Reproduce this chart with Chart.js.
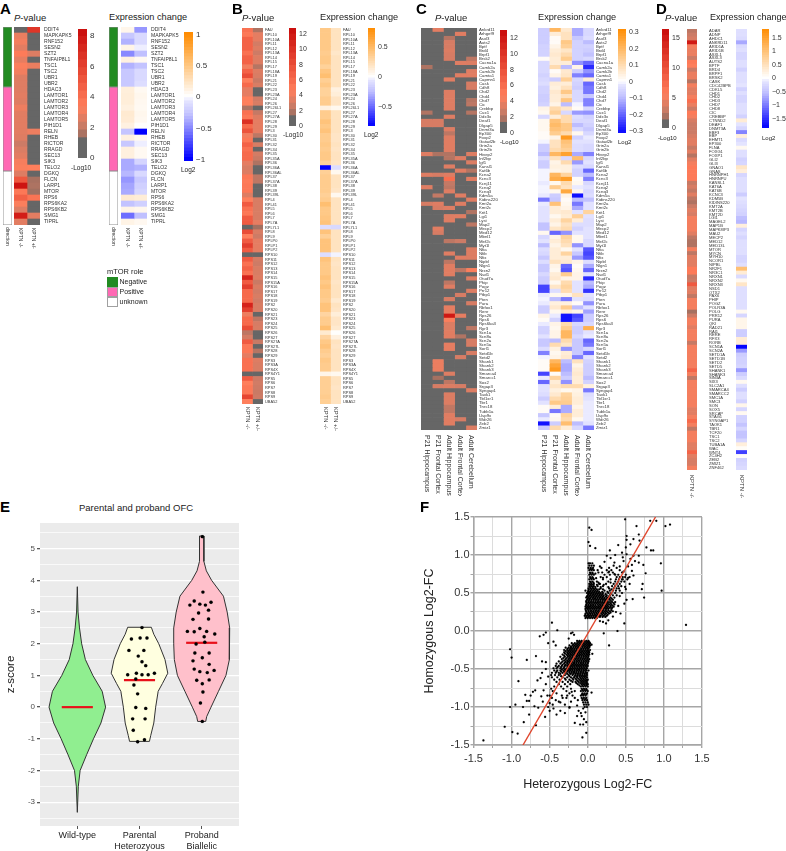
<!DOCTYPE html>
<html lang="en">
<head>
<meta charset="UTF-8" />
<title>KPTN expression figure</title>
<script src="https://cdn.jsdelivr.net/npm/chart.js"></script>
<style>
  html, body { margin: 0; padding: 0; background: #fff; }
  body { position: relative; width: 786px; height: 851px; overflow: hidden; font-family: "Liberation Sans", Arial, sans-serif; color: #222; }
  canvas { position: absolute; }
  .t { position: absolute; white-space: nowrap; line-height: 1; }
  .sw { position: absolute; box-sizing: border-box; }
</style>
</head>
<body>
<script>
// ---------- panel A ----------
const aGenes = ['DDIT4','MAPKAPK5','RNF152','SESN2','SZT2','TNFAIP8L1','TSC1','TSC2','UBR1','UBR2','HDAC3','LAMTOR1','LAMTOR2','LAMTOR3','LAMTOR4','LAMTOR5','PIH1D1','RELN','RHEB','RICTOR','RRAGD','SEC13','SIK3','TELO2','DGKQ','FLCN','LARP1','MTOR','RPS6','RPS6KA2','RPS6KB2','SMG1','TIPRL'];
const aColumns = ['KPTN -/-','KPTN +/-'];
const aRoleCounts = [10, 14, 9];
const aP1 = [0,2.8,3,2.6,3.5,2.7,3.2,3,2.5,2.5,2.5,2.6,2.5,2.9,2.6,2.6,2.6,2.6,2.5,2.1,2.4,2.6,3.1,3.2,2.5,5,8,3.6,4.6,3.2,2.5,7.6,2.6];
const aP2 = [6.5,0,0,0,2.5,0,2.8,0,0,0,0,0,0,0,0,0,0,2.9,0,0,0,0,0,3.3,0,1.5,1.6,1.4,3.8,0,0,2.6,0];
const aE1 = [.08,-.25,-.35,.1,-.5,.12,-.35,-.25,-.25,-.25,.14,.15,.15,.12,.18,.17,.12,-.27,.12,-.25,.13,.13,-.38,-.38,-.33,-.45,-.4,-.38,.18,-.28,.1,-.6,.1];
const aE2 = [-.45,-.15,-.15,-.05,-.3,.05,-.28,-.15,-.15,-.12,.05,.07,.06,.05,.07,.06,.01,-1,.06,-.05,.05,.05,-.18,-.35,-.15,-.25,-.2,-.17,.16,-.2,.07,-.3,.06];

// ---------- panel B ----------
const bGenes = ['FAU','RPL10','RPL10A','RPL11','RPL12','RPL13A','RPL14','RPL15','RPL17','RPL18A','RPL19','RPL21','RPL22','RPL23','RPL23A','RPL24','RPL26','RPL26L1','RPL27','RPL27A','RPL28','RPL29','RPL3','RPL30','RPL31','RPL32','RPL34','RPL35','RPL35A','RPL36','RPL36A','RPL36AL','RPL37','RPL37A','RPL38','RPL39','RPL39L','RPL4','RPL41','RPL5','RPL6','RPL7','RPL7A','RPL7L1','RPL8','RPL9','RPLP0','RPLP1','RPLP2','RPS10','RPS11','RPS12','RPS13','RPS14','RPS15','RPS15A','RPS16','RPS17','RPS18','RPS19','RPS2','RPS20','RPS21','RPS23','RPS24','RPS25','RPS26','RPS27','RPS27A','RPS27L','RPS28','RPS29','RPS3','RPS3A','RPS4X','RPS4Y1','RPS5','RPS6','RPS7','RPS8','RPS9','UBA52'];
const bP1 = [5.5,5,6.5,6.5,6.5,5.5,6.5,6.5,4,6.5,8,4.5,6,3.5,3.5,4.5,4.5,1.8,5.5,5,10,6,7.5,4,5,6.5,5.5,6,6,3.5,3,3.2,5,4.8,5,5,3.2,4.5,7,5.5,5,7,7,0,8,4.5,7,9,7,0,7,5.5,6.5,5.5,11,7,9,6,6,6,11,9,3.8,6,6,8,2.2,2.8,7,5,5,3.5,5.5,5.5,5.5,0,7,4.5,5,5,8.5,4.5];
const bP2 = [1.8,3.5,3.5,2.8,3.2,2.6,3.2,3.2,2,3.2,3,2.5,3,0,0,2.7,3,0,2.4,3.2,3.5,3.5,3.5,2.2,0,3,0,2.8,2.5,1.8,0,0,2.2,2.2,0,0,0,3,3,3,3,3,3.5,1.5,3,2.6,3.5,3.5,3.5,0,2.8,2.6,3,3,3.2,2.5,3,2.7,3,2.7,3,3,0,2.2,2.9,3,0,0,2.5,0,2,0,3.2,3,3,0,2.6,2.7,2.6,2.5,2.6,0];
const bE1 = [.38,.38,.38,.38,.38,.36,.38,.38,.32,.4,.45,.34,.38,.32,.32,.36,.36,.1,.36,.36,.42,.38,.42,.36,.36,.38,.36,.38,.38,.32,-.8,.33,.36,.36,.36,.36,.33,.36,.45,.38,.38,.4,.42,-.1,.42,.33,.42,.42,.42,-.1,.42,.38,.38,.38,.42,.38,.42,.38,.38,.36,.42,.42,.3,.36,.36,.45,.15,.3,.38,.42,.36,.33,.38,.36,.36,.07,.34,.34,.34,.34,.36,.34];
const bE2 = [.2,.2,.2,.2,.2,.17,.2,.2,.2,.2,.2,.2,.2,.1,.12,.18,.18,.05,.2,.2,.2,.2,.2,.18,.18,.2,.18,.2,.2,.18,-.1,.05,.2,.2,.2,.18,.05,.2,.2,.2,.2,.2,.2,-.12,.2,.2,.2,.2,.2,-.03,.2,.18,.2,.2,.2,.18,.2,.2,.2,.15,.2,.18,.12,.18,.18,.15,.01,.1,.2,.18,.2,.2,.2,.2,.2,.05,.2,.2,.18,.2,.2,.2];

// ---------- panel C ----------
const cGenes = ['Ankrd11','Arhgef9','Asxl3','Auts2','Bptf','Brd4','Brpf1','Brsk2','Cacna1a','Camk2a','Camk2b','Camta1','Capmn1','Cask','Cdh8','Chd2','Chd4','Chd7','Cic','Crebbp','Cux1','Ddx3x','Deaf1','Dlgap5','Dnmt3a','Ep300','Foxp2','Gatad2b','Grin2a','Grin2b','Hivep2','Inf2bp','Igf1','Kansl1','Kat6b','Kcna2','Kcnc3','Kcnj11','Kcnq2','Kcnq3','Kdm5a','Kidins220','Kmt2a','Kmt2c','Krit1','Lgi1','Lyst','Map2','Mecp2','Med12','Mbnl1','Mef2c','Myt1l','Nfia','Nfib','Nfix','Nipbl','Nlgn1','Nrxn2','Nsd1','Otud7a','Phip','Pogz','Prr12','Ptbp1','Pten','Pura','Rbfox1','Rere','Rps26','Rps6','Rps6ka3','Ryr3','Scn1a','Scn8a','Scn2a','Scn5a','Sorl1','Setd1b','Setd2','Shank1','Shank2','Shank3','Smarca4','Smarcc1','Sox2','Srgap3','Syngap1','Taok1','Tbl1xr1','Tbr1','Tnrc18','Tubb1a','Usp9x','Wdr26','Zeb2','Zmiz1'];
const cColumns = ['P21 Hippocampus','P21 Frontal Cortex','Adult Hippocampus','Adult Frontal Cortex','Adult Cerebellum'];
// [row, -log10 p] for the cells that are not grey
const cPHip21 = [[9,1.8],[20,1.9],[22,3],[23,3],[30,3.3],[35,3.3],[38,3.3],[42,3]];
const cPFront21 = [[0,3.5],[22,3],[23,3],[30,1.8],[35,3],[40,2.4],[42,3.3],[43,3],[48,3.4],[49,3],[80,3.8],[81,3.8],[82,3.8],[84,1.6],[86,3]];
const cPHipAdult = [[2,2],[3,3],[4,3],[5,3.2],[6,3],[7,3],[12,3.4],[15,3.3],[16,3.3],[17,3.3],[18,3.3],[19,3.3],[21,3.3],[24,3.3],[25,2.2],[26,3.3],[27,3.4],[28,3.4],[29,3.4],[30,1.9],[31,2],[33,3.3],[35,3.3],[36,5.8],[37,2.4],[38,2.2],[39,3.3],[43,3.3],[45,3.3],[46,3.3],[51,2.2],[54,3.3],[56,2.2],[57,3.4],[58,3.4],[59,3.4],[61,2.2],[62,3.3],[65,3],[67,3.6],[68,3.6],[69,12],[70,4.4],[71,3.2],[72,3.2],[73,3.4],[74,3.4],[76,3.6],[77,3.6],[83,3.2],[85,2.2],[86,3.2],[88,3.2],[89,3.2],[90,3.2],[91,2.3],[92,2.3],[93,3.4],[94,3.4],[95,3.4]];
const cPFrontAdult = [[1,3.4],[8,3.3],[11,3.4],[31,3.3],[34,3.3],[40,3.3],[42,3.3],[45,3.4],[51,2.6],[55,3.3],[58,2.2],[64,3],[69,3.6],[74,1.9],[79,3],[86,3],[94,3]];
const cPCereb = [[7,2.2],[8,3.2],[10,3.3],[11,3.4],[13,3],[14,3],[17,2],[18,2.2],[20,2],[30,3.2],[32,3.2],[34,2],[36,3.3],[41,3.3],[44,1.9],[47,2.2],[53,3.2],[54,3.2],[55,3.2],[58,4.4],[60,3.2],[63,3.2],[66,3],[72,2.2],[75,3],[76,3],[78,3],[87,3.2],[96,3.2]];
const cExprRows = [
[-.07,.2,.06,-.12,-.05],[-.07,.05,.08,-.12,-.05],[-.07,.01,.08,-.08,-.04],[-.07,.01,.15,-.06,-.1],[-.06,.03,.13,-.06,-.06],[-.06,.05,.07,-.06,-.07],[-.06,.06,.1,-.06,-.09],[.01,.05,.14,-.06,-.05],[-.05,.05,.05,-.15,-.2],[-.05,.1,-.1,.03,-.27],
[-.05,.01,.06,-.07,-.15],[-.06,.03,.07,-.17,-.2],[-.05,-.07,.13,-.05,.05],[-.04,.05,.05,-.06,-.2],[-.06,.04,.08,-.07,-.18],[-.06,.06,.15,-.05,-.18],[-.07,.05,.08,-.05,-.08],[-.07,.05,.16,-.05,-.17],[-.06,.03,-.1,-.01,-.17],[.03,.1,.07,.01,-.05],
[.02,.13,-.05,-.14,-.15],[-.05,.05,.1,-.04,-.06],[.02,.17,.1,-.05,-.05],[.02,.19,.15,-.1,-.06],[.02,.17,.15,-.05,-.08],[.01,.14,.1,.02,-.05],[.01,.03,.28,-.06,-.02],[-.01,.08,.17,-.03,-.03],[-.07,.08,.15,-.04,-.05],[-.07,.1,.13,-.04,-.05],
[-.1,.2,.26,-.12,-.17],[-.04,.08,-.05,.18,-.05],[-.07,.03,.1,-.14,-.03],[-.07,.04,.04,-.04,-.05],[-.01,.03,.04,-.06,-.2],[-.01,.2,.12,-.06,-.1],[-.01,.23,.27,.01,-.17],[-.02,.02,.1,.02,-.05],[-.01,.14,.08,-.02,-.03],[-.01,.02,.24,.02,-.05],
[-.02,-.07,.03,-.3,-.04],[-.18,-.08,.01,-.1,-.09],[-.02,.17,.02,-.18,-.03],[-.03,.05,.03,-.12,-.03],[-.03,.05,.06,-.03,.12],[-.03,.02,.05,.13,-.03],[-.03,.05,.12,.05,-.04],[-.09,.03,.08,-.04,-.04],[-.09,.07,.1,-.06,-.03],[.02,-.2,-.15,-.03,-.03],
[-.05,.03,.12,.02,-.03],[-.03,.05,.1,.02,-.05],[-.1,.03,.08,-.15,-.05],[-.04,.05,.02,-.03,-.22],[-.05,.05,.12,-.08,-.24],[-.08,.05,.05,-.14,-.22],[-.04,.08,.06,.03,-.04],[-.08,.03,-.2,.01,-.12],[-.08,.02,-.22,.02,-.2],[-.05,.05,.14,.03,-.03],
[-.07,.06,.03,.03,-.27],[-.07,.02,.1,-.03,-.1],[-.24,.07,.12,-.03,-.12],[-.24,-.04,.1,-.03,-.26],[-.02,.02,.03,.08,-.03],[-.01,-.1,-.18,-.03,-.04],[-.02,.04,.04,.01,-.15],[-.07,.06,.14,-.1,-.03],[-.07,.02,.05,.03,-.13],[.03,-.02,-.3,-.24,-.07],
[.01,-.06,-.3,-.22,-.07],[-.02,.03,.1,-.05,-.05],[-.06,.02,.14,-.07,.22],[-.06,.03,.2,-.07,-.03],[-.03,.03,.2,-.05,-.02],[-.08,-.1,.1,-.08,-.2],[-.08,.1,.07,-.08,-.18],[-.04,.04,-.15,-.08,-.05],[-.17,.02,.05,-.08,-.2],[-.01,.03,.06,-.17,-.03],
[.01,.2,-.1,.08,-.06],[.01,.25,-.12,.03,-.07],[.01,.28,-.12,.05,-.07],[-.24,.01,-.1,.06,-.07],[-.02,.12,-.07,.05,-.1],[-.2,.05,-.15,.05,-.06],[-.03,.07,.1,.1,.04],[-.03,.04,.02,.03,-.18],[-.04,.06,.12,.04,-.04],[-.07,.1,.13,.05,-.03],
[-.03,.15,.14,.05,-.02],[.01,.05,-.12,.03,-.02],[.01,-.18,-.12,.05,-.02],[-.08,.01,.12,.05,-.02],[-.02,.02,.1,.02,-.02],[-.3,-.07,.18,-.1,-.03],[-.08,.1,.05,-.05,-.18]
];

// ---------- panel D ----------
const dGenes = ['ADAR','ADNP','AHDC1','ANKRD11','ARID1A','ARID1B','ASXL1','ASXL3','AUTS2','BPTF','BRD4','BRPF1','BRSK2','CASK','CDC42BPB','CDKL5','CHD1','CHD2','CHD3','CHD7','CHD8','CIC','CREBBP','CTNND2','DEAF1','DNMT3A','EBF3','EBP','EHMT1','EP300','FLNA','FOXG1','FOXP1','GLI2','GLI3','GNAO1','GNAS','HNRNPH1','HNRNPU','KANSL1','KAT6A','KAT6B','KCNC3','KDM5B','KIDINS220','KMT2A','KMT2B','KMT2D','LGI1','MAGEL2','MAP1B','MAPK8IP3','MAU2','MECP2','MED12','MED13L','MTOR','MYCN','MYH10','NCOR1','NIPBL','NR2F1','NR3C1','NRXN1','NRXN2','NRXN3','NSD1','OTX2','PAX6','PHIP','POGZ','POLR3A','POLG','PRR12','PURA','QKI','RAD21','RAI1','RERE','RFX3','RORB','SCN1A','SCN2A','SETD1A','SETD1B','SETD2','SETD5','SHANK1','SHANK3','SIN3A','SIX3','SLC2A1','SMARCA4','SMARCC2','SMC1A','SMC3','SON','SOX5','SRCAP','STAG1','SYNGAP1','TAOK1','TBR1','TCF20','TSC1','TSC2','TUBA1A','WAC','WNT4','ZC4H2','ZEB2','ZMIZ1','ZNF462'];
const dP = [2.5,3,3.5,15,5,4.5,4.5,3,6,5.5,3,4.5,4.5,2.2,5,4,4,5,7,4.5,3,6,5,3.5,3,3,3,3.5,4,4,2.8,4,2.2,4,5,6,6,6,6,2.8,3.5,2.7,4,2.5,2,3,4,3.5,5,5,5,5,4,2.5,2,2,5,2.5,4,4,4,6,6,2.8,3,9,4,4,2.6,5,5,5,1.7,3,5,5,4,5,5,5,2.8,5,5,5,5,5,5,8,5,2.6,5,5,5,5,5,5,5,4,4,5,7.5,5,2.6,5,5,5,4,4,8,4,3.5,3.5,5];
const dE = [-.2,-.2,-.25,-.7,-.25,-.2,-.3,-.3,-.2,-.2,-.35,-.2,-.2,-.2,-.15,-.35,-.2,-.3,-.3,-.2,-.2,-.2,-.35,.3,-.15,-.3,-.95,.25,-.25,-.15,.1,-.2,-.2,-.35,-.3,.4,.25,-.3,-.2,-.2,-.2,-.2,-.4,-.15,-.2,-.25,-.3,-.35,-.55,-.6,.25,-.3,-.2,-.3,-.2,-.2,-.2,-.2,-.3,-.3,-.2,1,.3,-.25,.1,.4,-.2,-.2,-.2,-.2,-.2,-.2,.1,-.3,.15,.15,.15,-.4,-.4,.3,.3,-1.8,-.8,-.4,-.35,-.35,-.3,-.8,-.4,-.25,.1,-.2,-.4,-.2,-.2,-.35,.15,-.3,.1,-.35,-.35,-.5,-.3,-.5,-.5,-.3,.25,.05,-1.4,.05,-.35,-.3,-.25];

// ---------- colour bars: ticks ----------
const aPTicks = [8,6,4,2,0];
const aETicks = [1,.5,0,-.5,-1];
const bPTicks = [12,10,8,6,4,2,0];
const bETicks = [.5,0,-.5];
const cPTicks = [12,10,8,6,4,2,0];
const cETicks = [.3,.2,.1,0,-.1,-.2,-.3];
const dPTicks = [15,10,5,0];
const dETicks = [1.5,1,.5,0,-.5,-1,-1.5];

// ---------- panel E ----------
const eCategories = [['Wild-type'],['Parental','Heterozyous'],['Proband','Biallelic']];
const eGrid = [-3.5,-3,-2.5,-2,-1.5,-1,-.5,0,.5,1,1.5,2,2.5,3,3.5,4,4.5,5,5.5];
const wildY = [3.8,3,2.5,2,1.5,1,.5,0,-.5,-1,-1.5,-2,-2.5,-3.32];
const wildHalf = [0,.012,.035,.07,.13,.25,.4,.455,.38,.26,.15,.045,.016,0];
const parentalY = [2.52,2.3,2,1.5,1.07,.75,.5,0,-.5,-.9,-1.08];
const parentalHalf = [.19,.23,.31,.41,.455,.37,.3,.26,.23,.18,.16];
const probandY = [5.4,4.6,4.3,4,3.5,3,2.5,2,1.5,1,.5,0,-.3,-.45];
const probandHalf = [.035,.035,.075,.16,.35,.41,.45,.45,.44,.39,.27,.15,.08,.065];
const medianY = [0,.85,2.03];
const parentalPoints = [[2.04,2.51],[1.87,2.15],[2.01,2.18],[2.12,2.18],[1.83,1.79],[2.07,1.79],[1.98,1.61],[2.04,1.43],[2.10,1.31],[1.81,1.02],[1.95,1.07],[2.04,1.02],[2.14,1.02],[2.24,1.07],[1.94,.89],[1.91,.70],[1.97,.42],[1.94,-.01],[2.10,-.04],[1.89,-.37],[2.09,-.37],[1.90,-.73],[2.08,-1.03],[1.97,-1.09]];
const probandPoints = [[3.01,5.38],[3.02,3.63],[2.88,3.35],[2.81,3.22],[2.97,3.25],[3.06,3.22],[3.15,3.31],[3.11,3.06],[2.95,2.97],[3.11,2.78],[2.86,2.77],[2.77,2.39],[2.88,2.38],[2.97,2.48],[3.08,2.39],[3.21,2.31],[3.04,2.22],[3.05,2.05],[2.91,1.99],[2.89,1.71],[3.12,1.71],[3.01,1.56],[2.86,1.46],[3.12,1.35],[2.88,1.20],[2.97,1.12],[3.09,1.09],[3.20,1.16],[2.92,.85],[3.12,.86],[3.01,.74],[3.02,.48],[2.98,.13],[3.01,-.45]];

// ---------- panel F ----------
const fTicks = [-1.5,-1.25,-1,-.75,-.5,-.25,0,.25,.5,.75,1,1.25,1.5];
const fLineX = [-.85,.89];
const fLineY = [-1.5,1.5];
// dense clouds, one [y, [x, x, ...]] per row of dots
const upperCloud = [
[.17,[-.03,0,.03,.06,.09,.12]],
[.2,[-.04,-.01,.02,.05,.08,.11,.14,.17,.21,.25]],
[.23,[-.03,0,.03,.06,.09,.12,.15,.18,.21,.24,.28]],
[.26,[-.02,.01,.04,.07,.1,.13,.16,.19,.22,.25,.29,.33]],
[.29,[-.03,0,.03,.06,.09,.12,.15,.18,.21,.24,.27,.31]],
[.32,[-.03,0,.03,.06,.09,.12,.15,.18,.21,.24,.27,.3,.34]],
[.35,[-.02,.01,.04,.07,.1,.13,.16,.19,.22,.25,.28,.31,.35]],
[.38,[-.02,.01,.04,.07,.1,.13,.16,.19,.22,.25,.28,.32,.36]],
[.41,[-.01,.02,.05,.08,.11,.14,.17,.2,.23,.26,.29,.33]],
[.44,[-.02,.01,.04,.07,.1,.13,.16,.19,.22,.26,.3,.35]],
[.47,[0,.03,.06,.09,.12,.15,.18,.21,.25,.29,.33,.38]],
[.5,[-.01,.02,.05,.08,.11,.14,.17,.2,.27,.31,.36]],
[.53,[-.03,.01,.04,.07,.1,.13,.22,.29,.33,.37,.42]],
[.56,[.01,.04,.07,.1,.17,.28,.34,.38,.41]],
[.59,[.02,.05,.08,.13,.2,.32,.36,.4,.44]],
[.62,[.02,.05,.08,.16,.24,.34,.38,.42]],
[.65,[.03,.06,.12,.27,.36,.4,.44,.48]],
[.68,[.02,.05,.08,.2,.3,.37,.41,.45,.52]],
[.71,[.03,.06,.17,.25,.38,.42,.46,.55]],
[.74,[.02,.05,.08,.22,.29,.36,.4,.5]],
[.77,[.03,.06,.14,.19,.27,.33,.45]],
[.8,[.02,.05,.08,.25,.31,.42]],
[.83,[.01,.04,.07,.18,.28,.38]],
[.86,[.02,.05,.08,.34]],
[.89,[.01,.03,.06]]
];
const upperCore = [
[.185,[-.02,.015,.045,.075,.105,.13,.16,.195,.23]],
[.213,[-.03,.005,.035,.065,.095,.125,.155,.19,.225,.262]],
[.243,[-.015,.02,.05,.08,.11,.14,.17,.2,.23,.265,.3]],
[.272,[-.025,.012,.043,.078,.108,.14,.17,.2,.235,.27,.31]],
[.305,[-.015,.015,.045,.075,.105,.135,.165,.195,.225,.255,.29,.32]],
[.333,[-.02,.012,.042,.072,.102,.14,.17,.2,.23,.26,.3,.325]],
[.367,[-.01,.025,.055,.085,.115,.145,.175,.205,.235,.265,.3,.34]],
[.395,[-.02,.015,.045,.075,.105,.135,.165,.195,.225,.26,.305]],
[.425,[0,.03,.065,.095,.125,.155,.185,.215,.245,.28,.315]],
[.455,[-.01,.02,.05,.08,.11,.14,.17,.2,.24,.28]],
[.485,[.01,.04,.07,.1,.13,.16,.19,.235,.3]],
[.515,[.005,.03,.06,.09,.12,.15,.19,.26]],
[.548,[.015,.05,.085,.12,.15,.2,.31]],
[.578,[.03,.065,.1,.17,.27]],
[.607,[.035,.07,.12,.21]],
[.637,[.04,.075,.14,.3]],
[.695,[.04,.07,.11]],
[.755,[.035,.065,.1]],
[.815,[.035,.06]]
];
const lowerCloud = [
[-.13,[-.14,-.11,-.08,-.05,-.02,.01]],
[-.16,[-.21,-.17,-.14,-.11,-.08,-.05,-.02,.01,.03]],
[-.19,[-.24,-.2,-.17,-.14,-.11,-.08,-.05,-.02,.01,.03]],
[-.22,[-.29,-.25,-.22,-.19,-.16,-.13,-.1,-.07,-.04,-.01,.02]],
[-.25,[-.31,-.27,-.24,-.21,-.18,-.15,-.12,-.09,-.06,-.03,0,.03]],
[-.28,[-.31,-.27,-.24,-.21,-.18,-.15,-.12,-.09,-.06,-.03,0,.02]],
[-.31,[-.33,-.28,-.25,-.22,-.19,-.16,-.13,-.1,-.07,-.04,-.01,.02]],
[-.34,[-.36,-.3,-.26,-.23,-.2,-.17,-.14,-.11,-.08,-.05,-.02,.01]],
[-.37,[-.34,-.29,-.25,-.22,-.19,-.16,-.13,-.1,-.07,-.04,-.01,.02]],
[-.4,[-.38,-.33,-.29,-.26,-.23,-.2,-.17,-.14,-.11,-.08,-.05,-.02,.01]],
[-.43,[-.41,-.36,-.31,-.27,-.24,-.21,-.18,-.15,-.12,-.09,-.06,-.03,0]],
[-.46,[-.42,-.38,-.34,-.3,-.27,-.24,-.21,-.18,-.15,-.12,-.09,-.06,-.03,0]],
[-.49,[-.45,-.41,-.36,-.32,-.28,-.25,-.22,-.19,-.16,-.13,-.1,-.07,-.04,-.01]],
[-.52,[-.44,-.4,-.36,-.32,-.29,-.26,-.23,-.2,-.17,-.14,-.11,-.08,-.05,-.02,.01]],
[-.55,[-.47,-.42,-.38,-.33,-.29,-.24,-.21,-.18,-.15,-.12,-.09,-.06,-.03,-.01]],
[-.58,[-.48,-.43,-.38,-.3,-.25,-.2,-.16,-.13,-.1,-.07,-.04,-.01]],
[-.61,[-.47,-.4,-.33,-.27,-.22,-.18,-.14,-.1,-.07,-.04,-.01]],
[-.64,[-.44,-.37,-.29,-.24,-.19,-.15,-.11,-.08,-.05,-.02,0]],
[-.67,[-.41,-.33,-.26,-.2,-.16,-.12,-.08,-.05,-.02]],
[-.7,[-.38,-.3,-.23,-.13,-.08,-.05,-.02,0]],
[-.73,[-.44,-.35,-.27,-.09,-.06,-.03,0]],
[-.76,[-.48,-.32,-.22,-.08,-.05,-.02]],
[-.79,[-.46,-.28,-.17,-.09,-.06,-.03,0]],
[-.82,[-.41,-.24,-.07,-.04,-.01]],
[-.85,[-.5,-.34,-.2,-.09,-.06,-.03]],
[-.88,[-.47,-.28,-.08,-.05,-.02]],
[-.91,[-.42,-.13,-.07,-.04,-.01]],
[-.94,[-.36,-.06,-.03,0]],
[-.97,[-.46,-.05,-.02,.01]],
[-1,[-.52,-.24,-.04,-.01]]
];
const lowerCore = [
[-.145,[-.125,-.095,-.065,-.035,-.005,.02]],
[-.175,[-.19,-.155,-.125,-.095,-.065,-.035,-.005,.02]],
[-.205,[-.22,-.185,-.155,-.125,-.095,-.065,-.035,-.005,.02]],
[-.235,[-.265,-.23,-.205,-.175,-.145,-.115,-.085,-.055,-.025,.005]],
[-.265,[-.29,-.255,-.225,-.195,-.165,-.135,-.105,-.075,-.045,-.015,.015]],
[-.295,[-.3,-.26,-.23,-.2,-.17,-.14,-.11,-.08,-.05,-.02,.01]],
[-.325,[-.31,-.265,-.235,-.205,-.175,-.145,-.115,-.085,-.055,-.025,.005]],
[-.355,[-.32,-.275,-.24,-.21,-.18,-.15,-.12,-.09,-.06,-.03,0]],
[-.385,[-.31,-.27,-.24,-.205,-.175,-.145,-.115,-.085,-.055,-.025,.005]],
[-.415,[-.345,-.3,-.27,-.24,-.21,-.18,-.15,-.12,-.09,-.06,-.03,0]],
[-.445,[-.33,-.29,-.255,-.225,-.195,-.165,-.135,-.105,-.075,-.045,-.015]],
[-.475,[-.395,-.35,-.31,-.26,-.23,-.2,-.17,-.14,-.11,-.08,-.05,-.02]],
[-.505,[-.34,-.3,-.265,-.235,-.205,-.175,-.145,-.115,-.085,-.055,-.025]],
[-.535,[-.41,-.35,-.31,-.27,-.24,-.21,-.18,-.15,-.12,-.09,-.06,-.03]],
[-.565,[-.36,-.27,-.225,-.19,-.16,-.13,-.1,-.07,-.04,-.015]],
[-.595,[-.35,-.24,-.17,-.14,-.11,-.08,-.05,-.025]],
[-.625,[-.3,-.2,-.16,-.125,-.09,-.06,-.03]],
[-.655,[-.22,-.135,-.095,-.065,-.035,-.01]],
[-.685,[-.15,-.1,-.065,-.035,-.01]],
[-.715,[-.11,-.07,-.04,-.015]],
[-.775,[-.07,-.04,-.015]],
[-.835,[-.075,-.05,-.02]],
[-.895,[-.065,-.03]]
];
const upperSparse = [[1.29,.08],[1.08,1.4],[1.02,1.38],[.82,1.45],[.9,1.45],[.49,1.47],[.64,1.38],[.02,1.36],[.05,1.33],[.51,1.25],[.67,1.27],[.96,.89],[.97,.53],[.74,.44],[.76,.76],[.72,.62],[.71,.55],[.77,1.1],[.83,1.06],[.86,1.06],[.68,1.19],[.6,1.21],[.51,1.2],[.56,1.14],[.4,1.13],[.29,1.06],[.25,.99],[.36,1],[.45,1.03],[.51,1.01],[.6,.99],[.67,.99],[.62,.92],[.67,.9],[.73,.87],[.01,1.17],[.03,1.12],[.1,1.09],[.5,1.1],[.58,.79],[.6,.73],[.53,.7],[.49,.71],[.59,.42],[.51,.41],[.48,.1],[.39,0],[.28,-.19],[.21,-.03],[.43,.23],[.35,.9],[.42,.85],[.47,.92],[.53,.85],[.58,.87],[.3,.96],[.22,.91],[.16,.85],[.13,.8],[.28,.78],[.35,.75],[.46,.68],[.55,.62],[.5,.55],[.45,.5],[.42,.46],[.48,.36],[.4,.33],[.37,.25],[.33,.19],[.27,.14],[.2,.12],[.24,.1],[.16,.13],[.49,.58],[.47,.78],[.56,.95],[.46,.97],[.2,.7],[.15,.62]];
const lowerSparse = [[-.47,.11],[-.4,.01],[-.55,-.02],[-.58,-.05],[-.63,-.07],[-.52,-.16],[-.45,-.14],[-.42,-.19],[-1.02,-.24],[-1,-.35],[-.68,-.33],[-.8,-.38],[-.6,-.4],[-.55,-.41],[-.91,-.66],[-.66,-.65],[-.69,-.78],[-.82,-.84],[-1.02,-1],[-.95,-.97],[-.8,-.92],[-.77,-.92],[-.85,-1],[-.7,-.99],[-.65,-1.01],[-.77,-1.1],[-.84,-1.2],[-.68,-1.24],[-1.09,-1.26],[-.99,-1.33],[-.92,-1.35],[-1.37,-1.44],[-.56,-1.13],[-.41,-1.1],[-.3,-1.08],[-.36,-1.05],[-.24,-1.01],[-.5,-1.05],[-.17,-1.21],[-.1,-1.23],[-.07,-1.4],[-.02,-1.34],[.05,-.81],[-.12,-1.05],[-.09,-1.08],[-.06,-1.02],[-.03,-1.07],[-.08,-1.12],[-.05,-1.16],[-.02,-1.2],[-.06,-1.23],[-.14,-1.12],[-.55,-.5],[-.52,-.6],[-.55,-.7],[-.58,-.78],[-.61,-.86],[-.59,-.93],[-.53,-.85],[-.5,-.95],[-.45,-1.02],[-.38,-.93],[-.33,-.88],[-.27,-.85],[-.21,-.8],[-.17,-.88],[-.22,-.93],[-.3,-.97],[-.14,-.98],[-.72,-.8],[-.75,-.85],[-.62,-.62],[-.6,-.55],[.06,-.3],[.05,-.18],[-.25,-.1],[-.22,-.03],[-.2,-.02],[-.18,-.05]];

// ---------- colours ----------
const pStops = [[0,[154,110,96]],[.12,[208,124,102]],[.28,[255,127,92]],[.6,[232,74,53]],[1,[200,10,10]]];
const negStops = [[0,[255,255,255]],[.08,[228,228,255]],[.3,[192,192,255]],[1,[0,0,255]]];
const posStops = [[0,[255,255,255]],[1,[255,140,0]]];
const pFloor = 1.3;

function ramp(stops, t) {
  t = Math.max(0, Math.min(1, t));
  for (let i = 1; i < stops.length; i++) {
    if (t <= stops[i][0]) {
      const a = stops[i-1], b = stops[i];
      const f = (t - a[0]) / (b[0] - a[0]);
      return 'rgb(' + a[1].map((c, k) => Math.round(c + (b[1][k] - c) * f)).join(',') + ')';
    }
  }
  return 'rgb(' + stops[stops.length-1][1].join(',') + ')';
}
function pColor(v, max) {
  if (v < pFloor) return '#666666';
  return ramp(pStops, (v - pFloor) / (max - pFloor));
}
function exprColor(v, max) {
  return v >= 0 ? ramp(posStops, v / max) : ramp(negStops, -v / max);
}

// ---------- page helpers ----------
Chart.defaults.font.family = '"Liberation Sans", Arial, sans-serif';
Chart.defaults.animation = false;
Chart.defaults.responsive = false;
Chart.defaults.plugins.legend.display = false;
Chart.defaults.plugins.tooltip.enabled = false;

function addCanvas(left, top, width, height) {
  const c = document.createElement('canvas');
  c.width = width; c.height = height;
  c.style.left = left + 'px'; c.style.top = top + 'px';
  document.body.appendChild(c);
  return c.getContext('2d');
}
function text(str, x, y, size, extra) {
  const d = document.createElement('div');
  d.className = 't';
  d.innerHTML = str;
  d.style.left = x + 'px'; d.style.top = y + 'px'; d.style.fontSize = size + 'px';
  if (extra) Object.assign(d.style, extra);
  document.body.appendChild(d);
}
function swatch(x, y, w, h, bg, border) {
  const d = document.createElement('div');
  d.className = 'sw';
  Object.assign(d.style, { left: x+'px', top: y+'px', width: w+'px', height: h+'px', background: bg, border: '1px solid ' + border });
  document.body.appendChild(d);
}
// stops the axes from asking for room for their outer labels
function noLabelRoom(s) {
  s.paddingTop = 0; s.paddingBottom = 0; s.paddingLeft = 0; s.paddingRight = 0;
}

// draws labels under the columns, reading top to bottom
function columnLabels(labels, values, size, gap) {
  return {
    id: 'columnLabels',
    afterDraw(chart) {
      const ctx = chart.ctx, sx = chart.scales.x;
      ctx.save();
      ctx.font = size + 'px "Liberation Sans", Arial, sans-serif';
      ctx.fillStyle = '#333';
      ctx.textAlign = 'left';
      ctx.textBaseline = 'middle';
      labels.forEach((lab, i) => {
        ctx.save();
        ctx.translate(sx.getPixelForValue(values[i]), chart.chartArea.bottom + gap);
        ctx.rotate(Math.PI / 2);
        ctx.fillText(lab, 0, 0);
        ctx.restore();
      });
      ctx.restore();
    }
  };
}

function heatmap(box, genes, cols, colorOf, colLabels, font, labelFont) {
  const labelH = box.labelH;
  const ctx = addCanvas(box.x, box.y, box.w + box.labelW, box.h + labelH);
  return new Chart(ctx, {
    type: 'bar',
    data: {
      labels: genes,
      datasets: cols.map(col => ({
        data: genes.map(() => 1),
        backgroundColor: col.map(colorOf),
        barPercentage: 1, categoryPercentage: 1, borderWidth: 0
      }))
    },
    options: {
      indexAxis: 'y',
      layout: { padding: { bottom: labelH } },
      scales: {
        x: { stacked: true, min: 0, max: cols.length, display: false },
        y: {
          stacked: true, position: 'right',
          grid: { display: false, drawTicks: false }, border: { display: false },
          ticks: { autoSkip: false, font: { size: font }, color: '#333', padding: box.pad || 3 },
          afterFit(s) { noLabelRoom(s); s.width = box.labelW; }
        }
      }
    },
    plugins: [columnLabels(colLabels, colLabels.map((_, i) => i + .5), labelFont, box.gap || 3)]
  });
}

// edges: band limits from bottom to top
function colorBar(box, edges, colorOf, tickVals, font) {
  const room = 7;
  const lo = edges[0], hi = edges[edges.length - 1];
  const ctx = addCanvas(box.x, box.y - room, box.w + 24, box.h + room * 2);
  const bandData = edges.slice(0, -1).map((e, i) => [e, edges[i + 1]]);
  return new Chart(ctx, {
    type: 'bar',
    data: {
      labels: ['bar'],
      datasets: bandData.map(b => ({
        data: [[b[0], b[1] + (hi - lo) * .004]],
        backgroundColor: colorOf((b[0] + b[1]) / 2),
        grouped: false, barPercentage: 1, categoryPercentage: 1, borderWidth: 0, borderSkipped: false
      }))
    },
    options: {
      layout: { padding: { top: room, bottom: room } },
      scales: {
        x: { display: false },
        y: {
          position: 'right', min: lo, max: hi,
          afterBuildTicks(s) { s.ticks = tickVals.map(v => ({ value: v })); },
          grid: { display: false, drawTicks: false }, border: { display: false },
          ticks: { autoSkip: false, font: { size: font }, color: '#333', padding: 3, callback: v => String(v).replace('-', '\u2212') },
          afterFit(s) { noLabelRoom(s); s.width = 24; }
        }
      }
    }
  });
}
function edgesFor(lo, hi, n) {
  const out = [];
  for (let i = 0; i <= n; i++) out.push(lo + (hi - lo) * i / n);
  return out;
}
function pEdges(hi) {
  return [0].concat(edgesFor(pFloor, hi, 14));
}
function roleColumn(x) {
  const ctx = addCanvas(x - 1, 26, 11, 236);
  new Chart(ctx, {
    type: 'bar',
    data: {
      labels: ['direction'],
      datasets: [
        { data: [aRoleCounts[0]], backgroundColor: '#228b22' },
        { data: [aRoleCounts[1]], backgroundColor: '#ff69b4' },
        { data: [aRoleCounts[2]], backgroundColor: '#ffffff' }
      ].map(d => Object.assign(d, { barPercentage: 1, categoryPercentage: 1, borderWidth: 0.8, borderColor: '#8c8c8c', borderSkipped: false }))
    },
    options: {
      layout: { padding: { left: 1, right: 1, top: 1, bottom: 37 } },
      scales: {
        x: { stacked: true, display: false },
        y: { stacked: true, display: false, reverse: true, min: 0, max: aGenes.length }
      }
    },
    plugins: [columnLabels(['direction'], [0], 5, 2)]
  });
}
function fromSparse(list, n) {
  const out = new Array(n).fill(0);
  list.forEach(c => { out[c[0]] = c[1]; });
  return out;
}
function expandRows(rows) {
  const pts = [];
  rows.forEach(r => r[1].forEach(x => pts.push({ x: x, y: r[0] })));
  return pts;
}
const asXY = list => list.map(p => ({ x: p[0], y: p[1] }));
function violinOutline(center, ys, half) {
  const pts = ys.map((y, i) => ({ x: center + half[i], y: y }));
  for (let i = ys.length - 1; i >= 0; i--) pts.push({ x: center - half[i], y: ys[i] });
  pts.push({ x: pts[0].x, y: pts[0].y });
  return pts;
}

// ---------- A ----------
text('A', 0, 1, 15, { fontWeight: 'bold', color: '#000' });
text('<i>P</i>-value', 14, 13, 9.5);
text('Expression change', 109, 13, 9.2);
roleColumn(3);
roleColumn(109);
heatmap({ x: 14, y: 27, w: 26, h: 198, labelW: 42, labelH: 30, pad: 4 }, aGenes, [aP1, aP2], v => pColor(v, 8.47), aColumns, 5.1, 5);
heatmap({ x: 121, y: 27, w: 26, h: 198, labelW: 42, labelH: 30, pad: 4 }, aGenes, [aE1, aE2], v => exprColor(v, 1), aColumns, 5.1, 5);
colorBar({ x: 78, y: 29, w: 9, h: 129 }, pEdges(8.47), v => pColor(v, 8.47), aPTicks, 8);
colorBar({ x: 184, y: 32, w: 9, h: 129 }, edgesFor(-1.02, 1.04, 41), v => exprColor(v, 1), aETicks, 8);
text('-Log10', 71, 165, 6.5);
text('Log2', 181, 167, 6.5);
text('mTOR role', 107, 268, 7.5);
swatch(107, 277, 11, 10, '#228b22', '#228b22');
swatch(107, 287, 11, 10, '#ff69b4', '#a0a0a0');
swatch(107, 297, 11, 10, '#ffffff', '#a0a0a0');
text('Negative', 119.5, 278, 7);
text('Positive', 119.5, 288, 7);
text('unknown', 119.5, 298, 7);

// ---------- B ----------
text('B', 232, 1, 15, { fontWeight: 'bold', color: '#000' });
text('<i>P</i>-value', 242, 13, 9.5);
text('Expression change', 320, 13, 9.2);
heatmap({ x: 242, y: 28, w: 21, h: 376, labelW: 30, labelH: 36, pad: 2 }, bGenes, [bP1, bP2], v => pColor(v, 12.8), aColumns, 3.9, 5.8);
heatmap({ x: 320, y: 28, w: 21, h: 376, labelW: 30, labelH: 36, pad: 2 }, bGenes, [bE1, bE2], v => exprColor(v, .81), aColumns, 3.9, 5.8);
colorBar({ x: 289, y: 28, w: 7, h: 98 }, pEdges(12.8), v => pColor(v, 12.8), bPTicks, 7);
colorBar({ x: 368, y: 28, w: 7, h: 98 }, edgesFor(-.806, .816, 41), v => exprColor(v, .81), bETicks, 7);
text('-Log10', 283, 132, 6.5);
text('Log2', 364, 132, 6.5);

// ---------- C ----------
const cN = cGenes.length;
text('C', 416, 1, 15, { fontWeight: 'bold', color: '#000' });
text('<i>P</i>-value', 435, 13, 9.5);
text('Expression change', 538, 13, 9.2);
heatmap({ x: 421, y: 28, w: 56, h: 402, labelW: 36, labelH: 66, pad: 2, gap: 5 }, cGenes,
  [cPHip21, cPFront21, cPHipAdult, cPFrontAdult, cPCereb].map(l => fromSparse(l, cN)), v => pColor(v, 13), cColumns, 4.3, 7);
heatmap({ x: 538, y: 28, w: 56, h: 402, labelW: 36, labelH: 66, pad: 2, gap: 5 }, cGenes,
  [0, 1, 2, 3, 4].map(k => cExprRows.map(r => r[k])), v => exprColor(v, .32), cColumns, 4.3, 7);
colorBar({ x: 500, y: 30, w: 7, h: 103 }, pEdges(13), v => pColor(v, 13), cPTicks, 7);
colorBar({ x: 618, y: 29, w: 8, h: 104 }, edgesFor(-.31, .32, 41), v => exprColor(v, .32), cETicks, 7);
text('-Log10', 500, 139, 6);
text('Log2', 618, 139, 6);

// ---------- D ----------
text('D', 656, 1, 15, { fontWeight: 'bold', color: '#000' });
text('<i>P</i>-value', 665, 13, 9.5);
text('Expression change', 710, 13, 9);
heatmap({ x: 687, y: 29, w: 10, h: 441, labelW: 38, labelH: 36, pad: 12, gap: 5 }, dGenes, [dP], v => pColor(v, 16.5), ['KPTN -/-'], 4.1, 6);
heatmap({ x: 736, y: 29, w: 11, h: 441, labelW: 1, labelH: 36, pad: 1, gap: 5 }, dGenes.map(() => ''), [dE], v => exprColor(v, 1.83), ['KPTN -/-'], 1, 6);
colorBar({ x: 662, y: 29, w: 7, h: 99 }, pEdges(16.5), v => pColor(v, 16.5), dPTicks, 7);
colorBar({ x: 762, y: 29, w: 7, h: 99 }, edgesFor(-1.83, 1.83, 41), v => exprColor(v, 1.83), dETicks, 7);
text('-Log10', 658, 135, 6);
text('Log2', 762, 135, 6);

// ---------- E ----------
text('E', 0, 499, 15, { fontWeight: 'bold', color: '#000' });
text('Parental and proband OFC', 79, 503, 9.5);
const medianHalf = .25;
new Chart(addCanvas(0, 518, 245, 333), {
  type: 'scatter',
  data: {
    datasets: [
      { data: asXY(parentalPoints).concat(asXY(probandPoints)), backgroundColor: '#000', pointRadius: 1.7, order: 1 },
      ...medianY.map((y, i) => ({
        data: [{ x: i + 1 - medianHalf, y: y }, { x: i + 1 + medianHalf, y: y }],
        showLine: true, borderColor: '#e8101a', borderWidth: 2.2, pointRadius: 0, order: 2
      })),
      { data: violinOutline(1, wildY, wildHalf), showLine: true, fill: 'shape', backgroundColor: '#90ee90', borderColor: '#333', borderWidth: 1, pointRadius: 0, order: 3 },
      { data: violinOutline(2, parentalY, parentalHalf), showLine: true, fill: 'shape', backgroundColor: '#ffffe0', borderColor: '#333', borderWidth: 1, pointRadius: 0, order: 3 },
      { data: violinOutline(3, probandY, probandHalf), showLine: true, fill: 'shape', backgroundColor: '#ffc0cb', borderColor: '#333', borderWidth: 1, pointRadius: 0, order: 3 }
    ]
  },
  options: {
    layout: { padding: { right: 6 } },
    scales: {
      x: {
        min: .4, max: 3.6,
        afterBuildTicks(s) { s.ticks = eCategories.map((_, i) => ({ value: i + 1 })); },
        afterFit(s) { noLabelRoom(s); s.height = 25; },
        grid: { drawOnChartArea: false, tickColor: '#555', tickLength: 3 }, border: { display: false },
        ticks: { autoSkip: false, minRotation: 0, maxRotation: 0, font: { size: 9 }, color: '#222', padding: 1, callback: v => eCategories[v - 1] }
      },
      y: {
        min: -3.75, max: 5.81,
        afterBuildTicks(s) { s.ticks = eGrid.map(v => ({ value: v })); },
        afterFit(s) { noLabelRoom(s); s.width = 40; },
        grid: {
          color: '#ffffff', lineWidth: c => Number.isInteger(c.tick.value) ? 1.3 : .7,
          tickColor: c => Number.isInteger(c.tick.value) ? '#555' : 'rgba(0,0,0,0)', tickLength: 3
        },
        border: { display: false },
        ticks: { autoSkip: false, font: { size: 8 }, color: '#4d4d4d', padding: 2, callback: v => Number.isInteger(v) ? String(v) : '' },
        title: { display: true, text: 'z-score', font: { size: 11.5 }, color: '#222', padding: { top: 4, bottom: 0 } }
      }
    }
  },
  plugins: [{
    id: 'panelBg',
    beforeDraw(chart) {
      const a = chart.chartArea;
      chart.ctx.fillStyle = '#ebebeb';
      chart.ctx.fillRect(a.left, a.top, a.right - a.left, a.bottom - a.top);
    }
  }]
});

// ---------- F ----------
text('F', 420, 499, 15, { fontWeight: 'bold', color: '#000' });
const fAllPoints = expandRows(upperCloud).concat(expandRows(upperCore), expandRows(lowerCloud), expandRows(lowerCore), asXY(upperSparse), asXY(lowerSparse));
new Chart(addCanvas(420, 505, 295, 290), {
  type: 'scatter',
  data: {
    datasets: [
      { data: fLineX.map((x, i) => ({ x: x, y: fLineY[i] })), showLine: true, borderColor: '#e0452c', borderWidth: 1.4, pointRadius: 0, order: 1 },
      { data: fAllPoints, backgroundColor: '#000', pointRadius: 1.1, order: 2 }
    ]
  },
  options: {
    layout: { padding: { top: 12, right: 13 } },
    scales: {
      x: {
        min: -1.5, max: 1.5,
        afterBuildTicks(s) { s.ticks = fTicks.map(v => ({ value: v })); },
        afterFit(s) { noLabelRoom(s); s.height = 50; },
        grid: {
          color: c => c.tick.value * 2 % 1 === 0 ? '#a6a6a6' : '#dcdcdc',
          lineWidth: c => c.tick.value * 2 % 1 === 0 ? 1.4 : 1,
          tickColor: '#a6a6a6', tickLength: 3
        },
        border: { color: '#a6a6a6', width: 1.4 },
        ticks: { autoSkip: false, minRotation: 0, maxRotation: 0, font: { size: 11 }, color: '#333', padding: 4, callback: v => v * 2 % 1 === 0 ? v.toFixed(1) : '' },
        title: { display: true, text: 'Heterozygous Log2-FC', font: { size: 12.5 }, color: '#222', padding: { top: 8, bottom: 3 } }
      },
      y: {
        min: -1.5, max: 1.5,
        afterBuildTicks(s) { s.ticks = fTicks.map(v => ({ value: v })); },
        afterFit(s) { noLabelRoom(s); s.width = 53.5; },
        grid: {
          color: c => c.tick.value * 2 % 1 === 0 ? '#a6a6a6' : '#dcdcdc',
          lineWidth: c => c.tick.value * 2 % 1 === 0 ? 1.4 : 1,
          tickColor: '#a6a6a6', tickLength: 3
        },
        border: { color: '#a6a6a6', width: 1.4 },
        ticks: { autoSkip: false, font: { size: 11 }, color: '#333', padding: 1, callback: v => v * 2 % 1 === 0 ? v.toFixed(1) : '' },
        title: { display: true, text: 'Homozygous Log2-FC', font: { size: 12.5 }, color: '#222', padding: { top: 2, bottom: 0 } }
      }
    }
  }
});
</script>
</body>
</html>
